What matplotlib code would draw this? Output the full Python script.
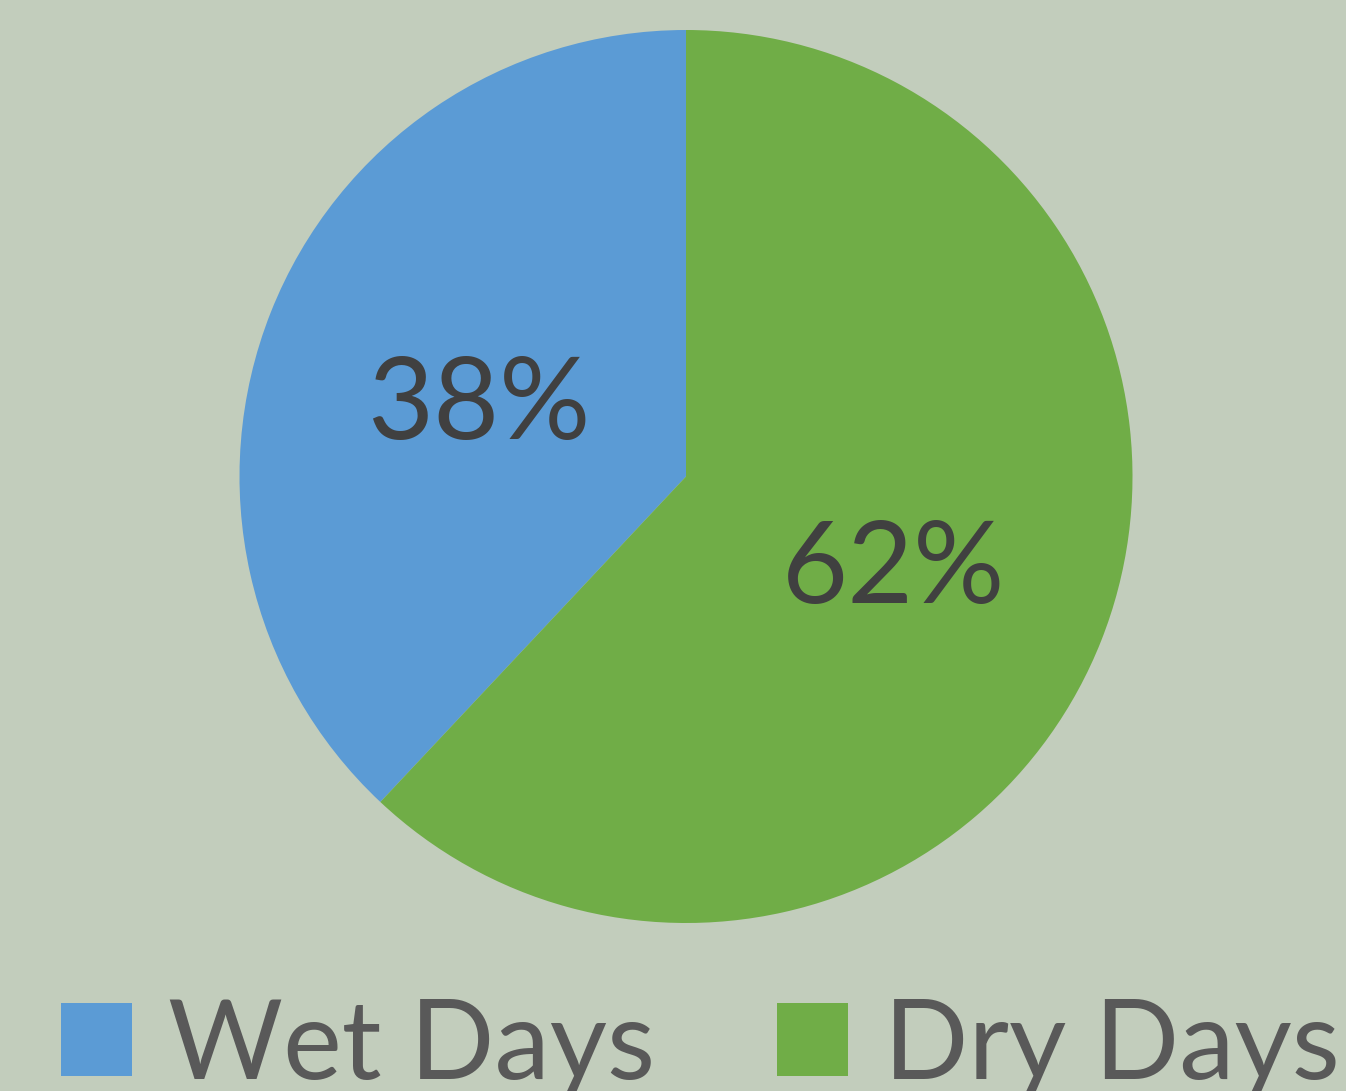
import matplotlib
matplotlib.use("Agg")
import matplotlib.pyplot as plt

categories = ["Wet Days", "Dry Days"]
values = [38, 62]
colors = ["#5B9BD5", "#70AD47"]

plt.rcParams['font.family'] = ['Lato', 'DejaVu Sans']

fig = plt.figure(figsize=(13.46, 10.91), dpi=100)
fig.patch.set_facecolor("#c2cdbc")

ax = fig.add_axes([239/1346, (1091-923)/1091, 894/1346, 893/1091])
ax.set_facecolor("none")
wedges, texts, autotexts = ax.pie(
    values, colors=colors, startangle=90, counterclock=True,
    autopct=lambda p: f"{p:.0f}%", pctdistance=0.5, radius=1.0,
    wedgeprops=dict(linewidth=0),
    textprops=dict(fontsize=82, color="#404040"))
for t in autotexts:
    x, y = t.get_position()
    t.set_position((x, y - 0.028))
ax.set_xlim(-1, 1)
ax.set_ylim(-1, 1)
ax.set_aspect("equal")
ax.axis("off")

leg = fig.legend(wedges, categories, loc="lower center", bbox_to_anchor=(0.5204, -0.047),
                 ncol=2, frameon=False, fontsize=80, labelcolor="#595959",
                 handlelength=0.64, handleheight=0.63, handletextpad=0.325,
                 columnspacing=1.09, borderaxespad=0.0)

fig.savefig("out.png", dpi=100, facecolor=fig.get_facecolor())
